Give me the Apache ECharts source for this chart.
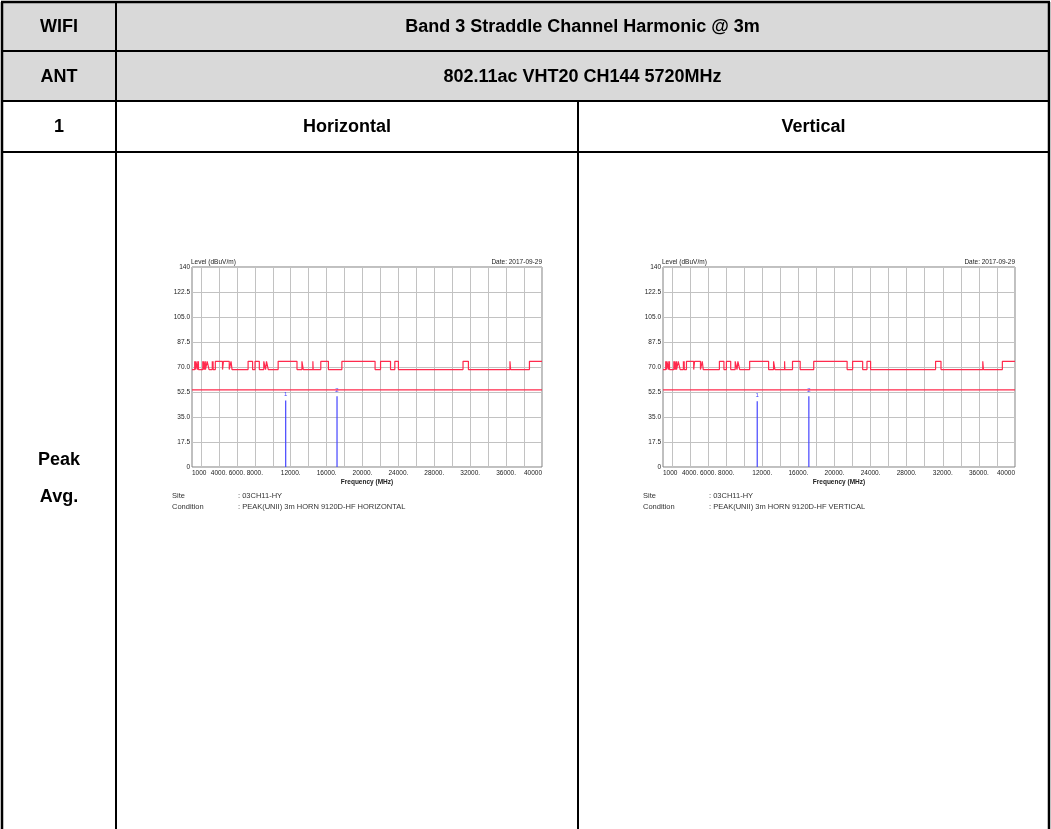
<!DOCTYPE html>
<html>
<head>
<meta charset="utf-8">
<script src="https://cdn.jsdelivr.net/npm/echarts@6/dist/echarts.min.js"></script>
<style>
html,body{margin:0;padding:0;background:#fff;}
#c{width:1051px;height:829px;}
</style>
</head>
<body>
<div id="c"></div>
<script>
// ---------- data ----------
const tableTitle = 'Band 3 Straddle Channel Harmonic @ 3m';
const tableMode = '802.11ac VHT20 CH144 5720MHz';
const polarizations = ['Horizontal', 'Vertical'];
const conditions = [': PEAK(UNII) 3m HORN 9120D-HF HORIZONTAL', ': PEAK(UNII) 3m HORN 9120D-HF VERTICAL'];
const siteName = ': 03CH11-HY';
const dateText = 'Date: 2017-09-29';

const xTickValues = [1000, 4000, 6000, 8000, 12000, 16000, 20000, 24000, 28000, 32000, 36000, 40000];
const xTickLabels = ['1000', '4000.', '6000.', '8000.', '12000.', '16000.', '20000.', '24000.', '28000.', '32000.', '36000.', '40000'];
const yTickLabels = ['0', '17.5', '35.0', '52.5', '70.0', '87.5', '105.0', '122.5', '140'];

// restricted bands (MHz) where peak limit is 74 dBuV/m, otherwise 68.2
const restrictedBandsMHz = [
  [1300, 1427], [1435, 1626.5], [1645.5, 1646.5], [1660, 1710], [1718.8, 1722.2],
  [2200, 2300], [2310, 2390], [2483.5, 2500], [2690, 2900], [3260, 3267],
  [3332, 3339], [3345.8, 3358], [3600, 4400], [4500, 5150], [5350, 5460],
  [7250, 7750], [8025, 8500], [9000, 9200], [9300, 9500], [10600, 12700],
  [13250, 13400], [14470, 14500], [15350, 16200], [17700, 21400], [22010, 23120],
  [23600, 24000], [31200, 31800], [36430, 36500], [38600, 40000]
];
const peakLimitLow = 68.2;
const peakLimitHigh = 74;
const avgLimit = 54;

const markerFreqsMHz = [11440, 17160];
const hMarkerLevels = [46.5, 49.5];
const vMarkerLevels = [46, 49.5];

// ---------- build ----------
function peakLimitPoints() {
  const pts = [[1000, peakLimitLow]];
  restrictedBandsMHz.forEach(b => {
    pts.push([b[0], peakLimitLow], [b[0], peakLimitHigh], [b[1], peakLimitHigh]);
    if (b[1] < 40000) pts.push([b[1], peakLimitLow]);
  });
  return pts;
}
const peakPts = peakLimitPoints();
const avgPts = [[1000, avgLimit], [40000, avgLimit]];

const RED = '#ff2a4d';
const BLUE = '#4545ff';
const GRID = '#c2c2c2';
const TXT = '#222';

const grids = [
  {left: 192, top: 267, width: 350, height: 200},
  {left: 663, top: 267, width: 352, height: 200}
];

function xAxisFor(i) {
  return {
    type: 'value', gridIndex: i, min: 1000, max: 40000, interval: 1000,
    axisLine: {show: false}, axisTick: {show: false},
    splitLine: {show: true, lineStyle: {color: ['rgba(0,0,0,0)', GRID], width: 1}},
    axisLabel: {
      fontSize: 6.5, color: TXT, margin: 3, fontFamily: 'Liberation Sans',
      alignMinLabel: 'left', alignMaxLabel: 'right', hideOverlap: false,
      formatter: v => { const k = xTickValues.indexOf(v); return k >= 0 ? xTickLabels[k] : ''; }
    },
    name: 'Frequency (MHz)', nameLocation: 'middle', nameGap: 12,
    nameTextStyle: {fontSize: 6.5, fontWeight: 'bold', color: TXT, fontFamily: 'Liberation Sans'}
  };
}
function yAxisFor(i) {
  return {
    type: 'value', gridIndex: i, min: 0, max: 140, interval: 17.5,
    axisLine: {show: false}, axisTick: {show: false},
    splitLine: {show: true, lineStyle: {color: GRID, width: 1}},
    axisLabel: {
      fontSize: 6.5, color: TXT, margin: 2, fontFamily: 'Liberation Sans',
      formatter: v => yTickLabels[Math.round(v / 17.5)]
    }
  };
}
function seriesFor(i, markerLevels) {
  return [
    {
      type: 'line', xAxisIndex: i, yAxisIndex: i, symbol: 'none', silent: true,
      lineStyle: {color: RED, width: 1.2}, itemStyle: {color: RED},
      data: peakPts.map((p, k) => k === peakPts.length - 1 ?
        {value: p, label: {show: true, position: 'top', align: 'right', distance: 2,
          formatter: 'PEAK(UNII)', color: RED, fontSize: 6.5, fontFamily: 'Liberation Sans'}} : p),
      z: 3
    },
    {
      type: 'line', xAxisIndex: i, yAxisIndex: i, symbol: 'none', silent: true,
      lineStyle: {color: RED, width: 1.2}, itemStyle: {color: RED},
      data: avgPts.map((p, k) => k === avgPts.length - 1 ?
        {value: p, label: {show: true, position: 'top', align: 'right', distance: 2,
          formatter: 'AVG_54', color: RED, fontSize: 6.5, fontFamily: 'Liberation Sans'}} : p),
      z: 3
    },
    {
      type: 'bar', xAxisIndex: i, yAxisIndex: i, barWidth: 1.2, silent: true,
      itemStyle: {color: BLUE},
      label: {show: true, position: 'top', distance: 3, color: BLUE, fontSize: 6,
        fontFamily: 'Liberation Sans', formatter: p => String(p.dataIndex + 1)},
      data: markerFreqsMHz.map((f, k) => [f, markerLevels[k]]),
      z: 2
    }
  ];
}

// ---------- table graphics ----------
const TL = 2, TR = 1049, C1 = 116, C2 = 578;
const R1 = 51, R2 = 101, R3 = 152, BOT = 829;
const headFont = 'bold 18px "Liberation Sans", Arial, sans-serif';
const g = [];
g.push({type: 'rect', shape: {x: TL, y: TL, width: TR - TL, height: R2 - TL}, style: {fill: '#d9d9d9'}, z: 0});
function hline(y, x1, x2, w) { g.push({type: 'line', shape: {x1: x1, y1: y, x2: x2, y2: y}, style: {stroke: '#000', lineWidth: w}, z: 5}); }
function vline(x, y1, y2, w) { g.push({type: 'line', shape: {x1: x, y1: y1, x2: x, y2: y2}, style: {stroke: '#000', lineWidth: w}, z: 5}); }
hline(TL, TL - 1, TR + 1, 2.5);
hline(R1, TL, TR, 2);
hline(R2, TL, TR, 2);
hline(R3, TL, TR, 2);
vline(TL, TL, BOT, 2.5);
vline(TR, TL, BOT, 2.5);
vline(C1, TL, BOT, 2);
vline(C2, R2, BOT, 2);
function text(x, y, s, font, align, color) {
  g.push({type: 'text', x: x, y: y, style: {text: s, font: font, textAlign: align || 'center', textVerticalAlign: 'middle', fill: color || '#000'}, z: 6});
}
text((TL + C1) / 2, (TL + R1) / 2 + 1, 'WIFI', headFont);
text((C1 + TR) / 2, (TL + R1) / 2 + 1, tableTitle, headFont);
text((TL + C1) / 2, (R1 + R2) / 2 + 1, 'ANT', headFont);
text((C1 + TR) / 2, (R1 + R2) / 2 + 1, tableMode, headFont);
text((TL + C1) / 2, (R2 + R3) / 2 + 1, '1', headFont);
text((C1 + C2) / 2, (R2 + R3) / 2 + 1, polarizations[0], headFont);
text((C2 + TR) / 2, (R2 + R3) / 2 + 1, polarizations[1], headFont);
text((TL + C1) / 2, 460, 'Peak', headFont);
text((TL + C1) / 2, 497, 'Avg.', headFont);

// chart annotations
const small = '6.5px "Liberation Sans", Arial, sans-serif';
const info = '7.5px "Liberation Sans", Arial, sans-serif';
grids.forEach((gr, i) => {
  text(gr.left - 1, gr.top - 5, 'Level (dBuV/m)', small, 'left', TXT);
  text(gr.left + gr.width, gr.top - 5, dateText, small, 'right', TXT);
  text(gr.left - 20, 496, 'Site', info, 'left', '#333');
  text(gr.left + 46, 496, siteName, info, 'left', '#333');
  text(gr.left - 20, 507, 'Condition', info, 'left', '#333');
  text(gr.left + 46, 507, conditions[i], info, 'left', '#333');
});

const chart = echarts.init(document.getElementById('c'), null, {renderer: 'canvas'});
chart.setOption({
  backgroundColor: '#fff',
  animation: false,
  grid: grids.map(gr => Object.assign({show: true, borderColor: '#808080', borderWidth: 1, backgroundColor: 'transparent', containLabel: false}, gr)),
  xAxis: [xAxisFor(0), xAxisFor(1)],
  yAxis: [yAxisFor(0), yAxisFor(1)],
  series: seriesFor(0, hMarkerLevels).concat(seriesFor(1, vMarkerLevels)),
  graphic: g
});
</script>
</body>
</html>
